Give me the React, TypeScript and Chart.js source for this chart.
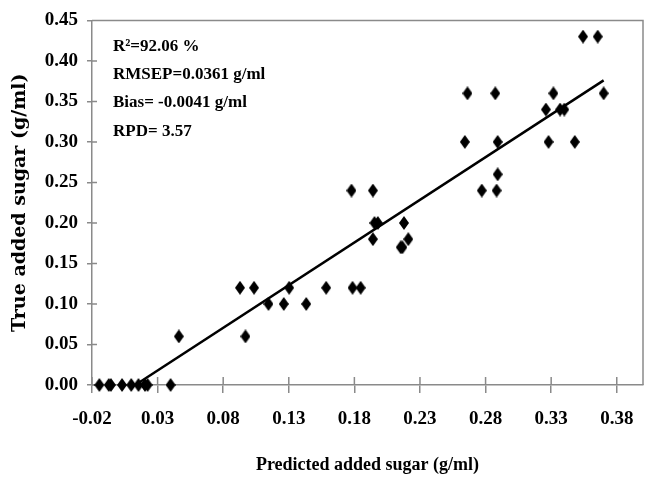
import React, { useEffect, useRef } from 'react';
import { Chart, registerables } from 'chart.js';

Chart.register(...registerables);

// ---- data ----
const predictedX = [
  -0.0144, -0.0072, -0.0056, 0.0029, 0.0099, 0.0154, 0.0204, 0.0224, 0.0399,
  0.0462, 0.097,
  0.1145, 0.1262, 0.1433,
  0.0928, 0.1035, 0.1303, 0.1585, 0.1786, 0.1848,
  0.2153, 0.2166,
  0.1941, 0.2211,
  0.1953, 0.1979, 0.2178,
  0.1778, 0.1941, 0.2771, 0.2884,
  0.2892,
  0.2642, 0.2892, 0.328, 0.348,
  0.326, 0.3368, 0.34,
  0.2662, 0.2874, 0.3317, 0.37,
  0.3543, 0.3655,
];
const trueY = [
  0, 0, 0, 0, 0, 0, 0, 0, 0,
  0.06, 0.06,
  0.10, 0.10, 0.10,
  0.12, 0.12, 0.12, 0.12, 0.12, 0.12,
  0.17, 0.17,
  0.18, 0.18,
  0.20, 0.20, 0.20,
  0.24, 0.24, 0.24, 0.24,
  0.26,
  0.30, 0.30, 0.30, 0.30,
  0.34, 0.34, 0.34,
  0.36, 0.36, 0.36, 0.36,
  0.43, 0.43,
];
const trendX = [0.013, 0.37];
const trendY = [0.0, 0.376];
const xTickValues = [-0.02, 0.03, 0.08, 0.13, 0.18, 0.23, 0.28, 0.33, 0.38];
const yTickValues = [0, 0.05, 0.1, 0.15, 0.2, 0.25, 0.3, 0.35, 0.4, 0.45];
const statsLines = ['R\u00B2=92.06 %', 'RMSEP=0.0361 g/ml', 'Bias= -0.0041 g/ml', 'RPD= 3.57'];
const xTitle = 'Predicted added sugar (g/ml)';
const yTitle = 'True added sugar (g/ml)';

const AXIS = '#8a8a8a';
const SERIF = '"Liberation Serif", "Times New Roman", serif';

function makeDiamond(): HTMLCanvasElement {
  const c = document.createElement('canvas');
  c.width = 10;
  c.height = 14;
  const g = c.getContext('2d')!;
  g.fillStyle = '#000';
  g.beginPath();
  g.moveTo(5, 0);
  g.lineTo(10, 7);
  g.lineTo(5, 14);
  g.lineTo(0, 7);
  g.closePath();
  g.fill();
  return c;
}

const framePlugin = {
  id: 'frameTicks',
  beforeDatasetsDraw(chart: any) {
    const { ctx, chartArea: a, scales } = chart;
    ctx.save();
    ctx.strokeStyle = AXIS;
    ctx.lineWidth = 1.5;
    ctx.beginPath();
    ctx.moveTo(a.left, a.top);
    ctx.lineTo(a.right, a.top);
    ctx.lineTo(a.right, a.bottom);
    scales.x.ticks.forEach((t: any) => {
      const px = scales.x.getPixelForValue(t.value);
      ctx.moveTo(px, a.bottom);
      ctx.lineTo(px, a.bottom - 8);
    });
    scales.y.ticks.forEach((t: any) => {
      const py = scales.y.getPixelForValue(t.value);
      ctx.moveTo(a.left, py);
      ctx.lineTo(a.left + 5, py);
    });
    ctx.stroke();
    ctx.restore();
  },
  afterDraw(chart: any) {
    const { ctx, chartArea: a } = chart;
    ctx.save();
    ctx.fillStyle = '#000';
    ctx.font = `bold 17px ${SERIF}`;
    ctx.textAlign = 'left';
    ctx.textBaseline = 'alphabetic';
    statsLines.forEach((s, i) => {
      ctx.fillText(s, a.left + 21, a.top + 30.3 + i * 28.3);
    });
    ctx.restore();
  },
};

export default function App() {
  const ref = useRef<HTMLCanvasElement | null>(null);

  useEffect(() => {
    if (!ref.current) return;
    const diamond = makeDiamond();
    const points = predictedX.map((x, i) => ({ x, y: trueY[i] }));
    const trend = trendX.map((x, i) => ({ x, y: trendY[i] }));

    const chart = new Chart(ref.current, {
      type: 'scatter',
      data: {
        datasets: [
          {
            label: 'samples',
            data: points,
            pointStyle: diamond as any,
            pointRadius: 6,
            showLine: false,
            clip: false as any,
          },
          {
            label: 'fit',
            type: 'line' as any,
            data: trend,
            borderColor: '#000',
            borderWidth: 2.5,
            pointRadius: 0,
            fill: false,
            clip: false as any,
          },
        ],
      },
      plugins: [framePlugin],
      options: {
        responsive: false,
        animation: false,
        layout: { padding: { top: 18, right: 2, left: 0, bottom: 0 } },
        plugins: {
          legend: { display: false },
          tooltip: { enabled: false },
        },
        scales: {
          x: {
            type: 'linear',
            min: -0.02,
            max: 0.4,
            afterBuildTicks: (s: any) => {
              s.ticks = xTickValues.map((v) => ({ value: v }));
            },
            afterFit: (s: any) => {
              s.height = 97;
            },
            grid: {
              drawOnChartArea: false,
              drawTicks: true,
              tickLength: 8,
              color: AXIS,
              lineWidth: 1.5,
            },
            border: { display: true, color: AXIS, width: 1.5 },
            ticks: {
              color: '#000',
              padding: 15,
              maxRotation: 0,
              autoSkip: false,
              font: { family: SERIF, size: 19, weight: 'bold' },
              callback: (v: any) => Number(v).toFixed(2),
            },
            title: {
              display: true,
              text: xTitle,
              color: '#000',
              font: { family: SERIF, size: 18, weight: 'bold' },
              padding: { top: 0, bottom: 6 },
            },
          },
          y: {
            type: 'linear',
            min: 0,
            max: 0.45,
            afterBuildTicks: (s: any) => {
              s.ticks = yTickValues.map((v) => ({ value: v }));
            },
            afterFit: (s: any) => {
              s.width = 92;
            },
            grid: {
              drawOnChartArea: false,
              drawTicks: true,
              tickLength: 5,
              color: AXIS,
              lineWidth: 1.5,
            },
            border: { display: true, color: AXIS, width: 1.5 },
            ticks: {
              color: '#000',
              padding: 9,
              autoSkip: false,
              font: { family: SERIF, size: 19, weight: 'bold' },
              callback: (v: any) => Number(v).toFixed(2),
            },
            title: {
              display: true,
              text: yTitle,
              color: '#000',
              font: { family: '"DejaVu Serif", serif', size: 19, weight: 'bold' },
              padding: { top: 9, bottom: 0 },
            },
          },
        },
      },
    });
    return () => chart.destroy();
  }, []);

  return (
    <div style={{ position: 'absolute', left: 0, top: 0, width: 650, height: 482, background: '#fff' }}>
      <canvas ref={ref} width={650} height={482} style={{ display: 'block' }} />
    </div>
  );
}
